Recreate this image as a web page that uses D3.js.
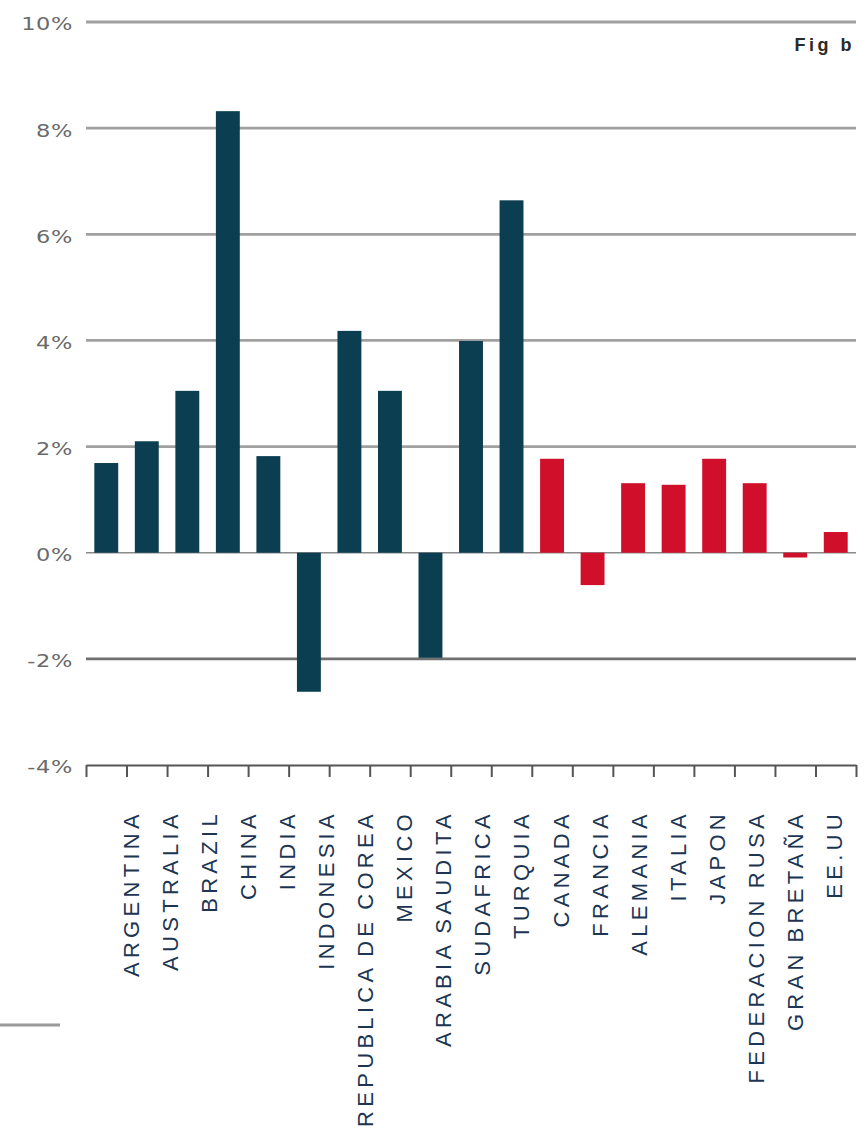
<!DOCTYPE html>
<html>
<head>
<meta charset="utf-8">
<script src="https://cdn.jsdelivr.net/npm/d3@7"></script>
<style>
  html, body { margin: 0; padding: 0; background: #fff; }
  svg { display: block; }
</style>
</head>
<body>
<svg id="chart" width="867" height="1135"></svg>
<script>
const categories = ["ARGENTINA","AUSTRALIA","BRAZIL","CHINA","INDIA","INDONESIA","REPUBLICA DE COREA","MEXICO","ARABIA SAUDITA","SUDAFRICA","TURQUIA","CANADA","FRANCIA","ALEMANIA","ITALIA","JAPON","FEDERACION RUSA","GRAN BRETAÑA","EE.UU"];
const values = [1.69, 2.10, 3.05, 8.32, 1.82, -2.62, 4.18, 3.05, -1.98, 3.99, 6.64, 1.77, -0.61, 1.31, 1.28, 1.77, 1.31, -0.09, 0.39];
const groups = ["emerging","emerging","emerging","emerging","emerging","emerging","emerging","emerging","emerging","emerging","emerging","advanced","advanced","advanced","advanced","advanced","advanced","advanced","advanced"];
const yTicks = [10, 8, 6, 4, 2, 0, -2, -4];
const figLabel = "Fig b";

const svg = d3.select("#chart");
const mLeft = 86, mRight = 856, mTop = 22, mBottom = 765;

const x = d3.scaleBand().domain(categories).range([mLeft, mRight]).paddingInner(0.41).paddingOuter(0.205);
const xEdges = d3.scaleLinear().domain([0, categories.length]).range([mLeft, mRight]);
const y = d3.scaleLinear().domain([-4, 10]).range([mBottom, mTop]);
const xLab = d3.scalePoint().domain(categories).range([131, 834]);
const color = d3.scaleOrdinal().domain(["emerging","advanced"]).range(["#0b3e50","#d0102b"]);

// gridlines
svg.append("g").selectAll("line").data(yTicks.filter(t => t > -4)).join("line")
  .attr("x1", mLeft).attr("x2", mRight)
  .attr("y1", d => y(d)).attr("y2", d => y(d))
  .attr("stroke", d => d === 0 ? "#8a8a8a" : (d < 0 ? "#707070" : "#a0a0a0"))
  .attr("stroke-width", d => d === 0 ? 1.5 : 2.8);

// y labels (slightly widened like the reference)
svg.append("g").selectAll("text").data(yTicks).join("text")
  .attr("transform", d => `translate(73,${y(d) + 2}) scale(1.25,1)`)
  .attr("dy", "0.36em")
  .attr("text-anchor", "end")
  .attr("font-family", "DejaVu Sans, Verdana, sans-serif")
  .attr("font-size", 18).attr("letter-spacing", 0.5)
  .attr("fill", "#6a6a6a")
  .text(d => d + "%");

// bars
svg.append("g").selectAll("rect").data(categories).join("rect")
  .attr("x", d => x(d))
  .attr("width", x.bandwidth())
  .attr("y", (d, i) => y(Math.max(0, values[i])))
  .attr("height", (d, i) => Math.abs(y(values[i]) - y(0)))
  .attr("fill", (d, i) => color(groups[i]));

// bottom axis with ticks at category boundaries
const axis = d3.axisBottom(xEdges).tickValues(d3.range(categories.length + 1)).tickSize(12).tickSizeOuter(0).tickFormat("");
const gAxis = svg.append("g").attr("transform", `translate(0,${mBottom})`).call(axis);
gAxis.select(".domain").attr("stroke", "#555").attr("stroke-width", 2);
gAxis.selectAll(".tick line").attr("stroke", "#555").attr("stroke-width", 2);

// x labels
svg.append("g").selectAll("text").data(categories).join("text")
  .attr("transform", d => `translate(${xLab(d)},810) rotate(-90)`)
  .attr("dy", "0.36em")
  .attr("text-anchor", "end")
  .attr("font-family", "Liberation Sans, Arial, sans-serif")
  .attr("font-size", 22).attr("letter-spacing", 4.3).attr("word-spacing", -2.5)
  .attr("fill", "#1c3552")
  .text(d => d);

// fig label
svg.append("text").attr("x", 855).attr("y", 45).attr("dy", "0.36em")
  .attr("text-anchor", "end")
  .attr("font-family", "Liberation Sans, Arial, sans-serif")
  .attr("font-weight", "bold").attr("font-size", 18).attr("letter-spacing", 3.5)
  .attr("fill", "#2a2a2a")
  .text(figLabel);

// footnote rule
svg.append("line").attr("x1", 0).attr("x2", 60).attr("y1", 1025).attr("y2", 1025)
  .attr("stroke", "#9a9a9a").attr("stroke-width", 3);
</script>
</body>
</html>
